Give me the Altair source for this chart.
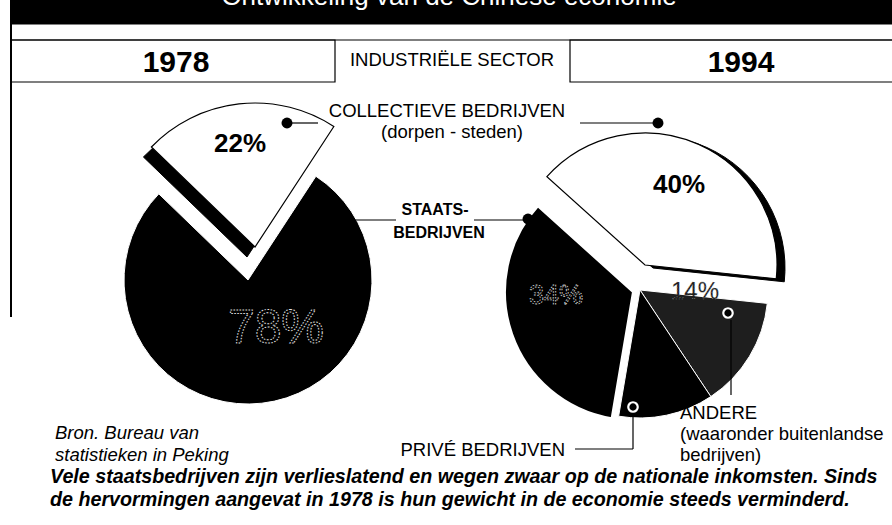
import math
import altair as alt
import pandas as pd

# ---------------- data ----------------
cats78 = ["Collectieve bedrijven", "Staatsbedrijven"]
vals78 = [22, 78]
cats94 = ["Collectieve bedrijven", "Andere", "Privé bedrijven", "Staatsbedrijven"]
vals94 = [40, 14, 12, 34]
year_labels = ["1978", "1994"]

title_text = "Ontwikkeling van de Chinese economie"
sector_text = "INDUSTRIËLE SECTOR"
source_lines = ["Bron. Bureau van", "statistieken in Peking"]
caption_lines = [
    "Vele staatsbedrijven zijn verlieslatend en wegen zwaar op de nationale inkomsten. Sinds",
    "de hervormingen aangevat in 1978 is hun gewicht in de economie steeds verminderd.",
]

FONT = "Liberation Sans"

W, H = 892, 525
dummy = alt.Data(values=[{"a": 0}])


def pie_data(cats, vals, key):
    df = pd.DataFrame({"cat": cats, "val": vals, "idx": list(range(len(cats)))})
    return (
        alt.Chart(df)
        .transform_window(**{f"end{key}": "sum(val)"}, sort=[alt.SortField("idx")], frame=[None, 0])
        .transform_calculate(**{f"start{key}": f"datum.end{key} - datum.val"})
    )


def slice_layer(base, key, cat, start_deg, cx, cy, r, fill, stroke="black", sw=1.0):
    a0 = math.radians(start_deg)
    return (
        base.transform_filter(alt.datum.cat == cat)
        .mark_arc(outerRadius=r, innerRadius=0, fill=fill, stroke=stroke, strokeWidth=sw)
        .encode(
            theta=alt.Theta(f"start{key}:Q", stack=None,
                            scale=alt.Scale(domain=[0, 100], range=[a0, a0 + 2 * math.pi])),
            theta2=alt.Theta2(f"end{key}:Q"),
            x=alt.value(cx),
            y=alt.value(cy),
        )
    )


def txt(s, x, y, size, weight="normal", style="normal", color="black", align="center",
        font=FONT, baseline="middle", **kw):
    return alt.Chart(dummy).mark_text(
        text=s, fontSize=size, fontWeight=weight, fontStyle=style, color=color,
        align=align, baseline=baseline, font=font, **kw
    ).encode(x=alt.value(x), y=alt.value(y))


def rule(x1, y1, x2, y2, color="black", sw=1.2):
    return alt.Chart(dummy).mark_rule(color=color, strokeWidth=sw).encode(
        x=alt.value(x1), y=alt.value(y1), x2=alt.value(x2), y2=alt.value(y2)
    )


def box(x1, y1, x2, y2, fill="none", stroke="black", sw=1.2):
    return alt.Chart(dummy).mark_rect(fill=fill, stroke=stroke, strokeWidth=sw).encode(
        x=alt.value(x1), y=alt.value(y1), x2=alt.value(x2), y2=alt.value(y2)
    )


def dot(x, y, size=120, hollow=False):
    layers = [alt.Chart(dummy).mark_point(shape="circle", filled=True, size=size + (60 if hollow else 0),
                                          color="black", opacity=1).encode(x=alt.value(x), y=alt.value(y))]
    if hollow:
        layers.append(alt.Chart(dummy).mark_point(shape="circle", filled=False, size=size,
                                                  color="white", strokeWidth=2.2, opacity=1)
                      .encode(x=alt.value(x), y=alt.value(y)))
    return layers


layers = []

# ---------------- frame ----------------
layers.append(box(11, 0, W, 24, fill="black", stroke="black"))
layers.append(txt(title_text, 449, 5, 26, color="white", baseline="alphabetic"))
layers.append(rule(11, 0, 11, 317, sw=2))
layers.append(rule(11, 40, W, 40))
layers.append(box(11, 40, 335, 82))
layers.append(box(570, 40, W + 2, 82))
layers.append(txt(year_labels[0], 176, 63, 30, weight=900))
layers.append(txt(year_labels[1], 741, 63, 30, weight=900))
layers.append(txt(sector_text, 452, 60, 18.5))

# ---------------- pie 1978 ----------------
base78 = pie_data(cats78, vals78, "78")
S78 = -46
layers.append(slice_layer(base78, "78", cats78[1], S78, 248, 280, 124, "black", stroke="white", sw=1))
layers.append(slice_layer(base78, "78", cats78[0], S78, 247, 257, 144, "black", stroke="black"))
layers.append(slice_layer(base78, "78", cats78[0], S78, 255, 247, 144, "white", stroke="black", sw=1.2))

# ---------------- pie 1994 ----------------
base94 = pie_data(cats94, vals94, "94")
S94 = -48
layers.append(slice_layer(base94, "94", cats94[1], S94, 640, 290, 128, "#1e1e1e", stroke="white", sw=1))
layers.append(slice_layer(base94, "94", cats94[2], S94, 640, 290, 128, "black", stroke="white", sw=1))
layers.append(slice_layer(base94, "94", cats94[3], S94, 633, 292, 128, "black", stroke="white", sw=2))
layers.append(slice_layer(base94, "94", cats94[0], S94, 653, 268, 132, "black", stroke="black"))
layers.append(slice_layer(base94, "94", cats94[0], S94, 645, 265, 132, "white", stroke="black", sw=1.2))

# ---------------- value labels ----------------
layers.append(txt(f"{vals78[0]}%", 240, 144, 26, weight="bold"))
layers.append(txt(f"{vals78[1]}%", 276, 329, 48, color="black",
                  stroke="#e0e0e0", strokeWidth=1, strokeDash=[1.5, 1.5]))
layers.append(txt(f"{vals94[0]}%", 679, 185, 26, weight="bold"))
layers.append(txt(f"{vals94[3]}%", 556, 296, 27, color="black",
                  stroke="#e0e0e0", strokeWidth=0.8, strokeDash=[1.5, 1.5]))
layers.append(txt(f"{vals94[1]}%", 695, 292, 24, color="#1e1e1e",
                  stroke="#9a9a9a", strokeWidth=0.6, strokeDash=[1, 2]))

# ---------------- annotations ----------------
layers.append(txt("COLLECTIEVE BEDRIJVEN", 447, 111, 18.5))
layers.append(txt("(dorpen - steden)", 452, 132, 18.5))
layers.append(rule(287, 123, 318, 123))
layers.append(rule(580, 123, 658, 123))
layers += dot(287, 123)
layers += dot(658, 123)

layers.append(rule(341, 220, 396, 220))
layers.append(rule(474, 220, 528, 220))
layers.append(txt("STAATS-", 435, 210, 16, weight=900))
layers.append(txt("BEDRIJVEN", 439, 233, 16, weight=900))
layers += dot(341, 219)
layers += dot(528, 219)

layers.append(rule(731, 320, 731, 395))
layers += dot(728, 313, size=90, hollow=True)
layers.append(txt("ANDERE", 680, 413, 18.5, align="left"))
layers.append(txt("(waaronder buitenlandse", 680, 434, 18.5, align="left"))
layers.append(txt("bedrijven)", 680, 455, 18.5, align="left"))

layers.append(rule(633, 414, 633, 449))
layers.append(rule(575, 449, 633, 449))
layers += dot(633, 407, size=90, hollow=True)
layers.append(txt("PRIVÉ BEDRIJVEN", 565, 450, 18.5, align="right"))

layers.append(txt(source_lines[0], 55, 433, 18.5, style="italic", align="left"))
layers.append(txt(source_lines[1], 55, 455, 18.5, style="italic", align="left"))
layers.append(txt(caption_lines[0], 50, 477, 19.7, weight="bold", style="italic", align="left"))
layers.append(txt(caption_lines[1], 50, 500, 19.7, weight="bold", style="italic", align="left"))

chart = (
    alt.layer(*layers)
    .resolve_scale(theta="independent")
    .properties(width=W, height=H, padding=0, autosize=alt.AutoSizeParams(type="none"),
                background="white")
    .configure_view(stroke=None)
)

chart.save("out.html", embed_options={"renderer": "svg", "actions": False})
